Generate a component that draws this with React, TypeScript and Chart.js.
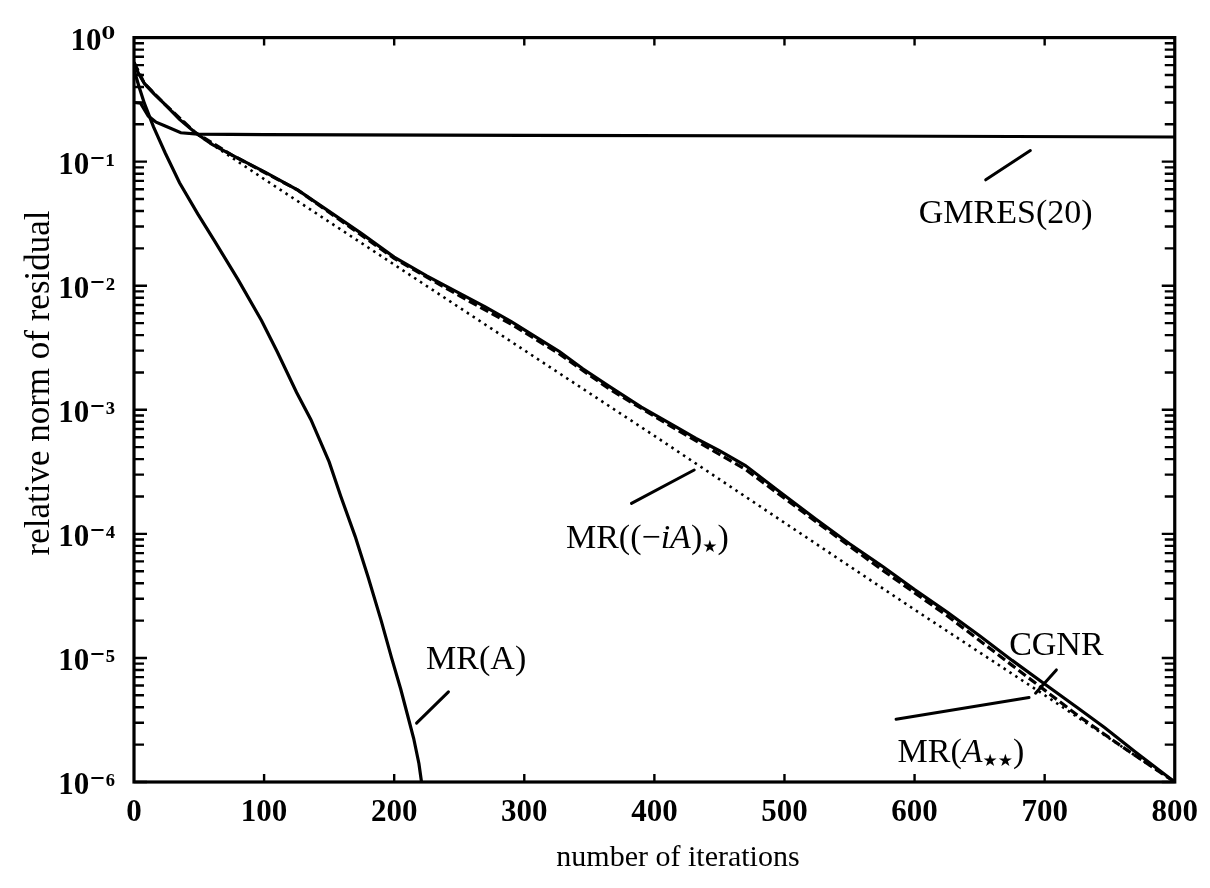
import React, { useEffect, useRef } from 'react';
import { Chart, registerables } from 'chart.js';

Chart.register(...registerables);

// ---------- data ----------
const X_TICKS = [0, 100, 200, 300, 400, 500, 600, 700, 800];
const Y_DECADES = [0, -1, -2, -3, -4, -5, -6];

const gmresIter = [0, 5, 11, 17, 24, 36, 49, 100, 300, 550, 800];
const gmresRes = [0.3, 0.296, 0.233, 0.208, 0.194, 0.171, 0.167, 0.165, 0.163, 0.161, 0.158];

const mrAIter = [0, 4, 8, 15, 24, 35, 49, 62, 80, 98, 110, 125, 136, 150, 159, 170, 180, 190, 198, 205, 210, 215, 219, 221];
const mrARes = [0.55, 0.398, 0.295, 0.191, 0.1175, 0.0676, 0.038, 0.0229, 0.0112, 0.00525, 0.00295, 0.00138, 8.32e-4, 3.8e-4, 2.0e-4, 9.55e-5, 4.47e-5, 2.0e-5, 1.0e-5, 5.62e-6, 3.55e-6, 2.24e-6, 1.41e-6, 1.0e-6];

const cgnrIter = [0, 3, 8, 15, 23, 35, 47, 60, 75, 100, 126, 150, 175, 200, 225, 250, 270, 290, 310, 327, 345, 365, 390, 417, 432, 450, 470, 495, 524, 550, 575, 600, 625, 650, 675, 700, 725, 746, 770, 800];
const cgnrRes = [0.631, 0.525, 0.427, 0.355, 0.295, 0.219, 0.172, 0.138, 0.1135, 0.0832, 0.0589, 0.0398, 0.0263, 0.017, 0.012, 0.00871, 0.00676, 0.00513, 0.0038, 0.00295, 0.00214, 0.00155, 0.00105, 7.24e-4, 5.89e-4, 4.68e-4, 3.55e-4, 2.24e-4, 1.32e-4, 8.32e-5, 5.5e-5, 3.55e-5, 2.34e-5, 1.51e-5, 9.55e-6, 6.17e-6, 3.98e-6, 2.75e-6, 1.74e-6, 1.0e-6];

const mrAssIter = [0, 8, 23, 47, 75, 126, 200, 250, 290, 327, 365, 417, 470, 524, 575, 625, 675, 700, 725, 760, 800];
const mrAssRes = [0.631, 0.427, 0.295, 0.172, 0.1135, 0.0589, 0.0166, 0.00832, 0.0049, 0.00282, 0.00148, 6.92e-4, 3.31e-4, 1.26e-4, 5.13e-5, 2.19e-5, 8.71e-6, 5.5e-6, 3.47e-6, 1.91e-6, 1.0e-6];

const mrIAIter = [0, 8, 23, 47, 100, 200, 300, 400, 500, 600, 700, 800];
const mrIARes = [0.631, 0.427, 0.295, 0.17, 0.0724, 0.0148, 0.00302, 6.17e-4, 1.23e-4, 2.45e-5, 5.01e-6, 1.0e-6];

// curve labels, anchored in data coordinates
const LABELS = [
  { parts: [{ t: 'GMRES(20)' }], at: [670, 0.0398], leader: [[654.7, 0.0714], [689, 0.123]] },
  { parts: [{ t: 'MR((\u2212' }, { t: 'iA', s: 'i' }, { t: ')' }, { t: '\u2605', s: 'sub' }, { t: ')' }], at: [394.6, 9.46e-5], leader: [[382.4, 1.76e-4], [430.6, 3.27e-4]] },
  { parts: [{ t: 'MR(A)' }], at: [263, 1.01e-5], leader: [[217.2, 2.98e-6], [241.7, 5.33e-6]] },
  { parts: [{ t: 'CGNR' }], at: [709, 1.3e-5], leader: [[709, 8.0e-6], [693, 5.2e-6]] },
  { parts: [{ t: 'MR(' }, { t: 'A', s: 'i' }, { t: '\u2605\u2605', s: 'sub' }, { t: ')' }], at: [635.6, 1.79e-6], leader: [[585.8, 3.2e-6], [688, 4.8e-6]] },
];

const X_TITLE = 'number of iterations';
const Y_TITLE = 'relative norm of residual';

const SERIF = '"Liberation Serif", "DejaVu Serif", serif';
const SUP: Record<string, string> = { '-': '\u207B', '0': '\u2070', '1': '\u00B9', '2': '\u00B2', '3': '\u00B3', '4': '\u2074', '5': '\u2075', '6': '\u2076', '7': '\u2077', '8': '\u2078', '9': '\u2079' };
const supText = (n: number) => String(n).split('').map((c) => SUP[c] || c).join('');

const pts = (xs: number[], ys: number[]) => xs.map((x, i) => ({ x, y: ys[i] }));

function drawRich(ctx: CanvasRenderingContext2D, parts: { t: string; s?: string }[], cx: number, cy: number, size: number) {
  const fontFor = (s?: string) => {
    if (s === 'i') return `italic ${size}px ${SERIF}`;
    if (s === 'sub') return `${Math.round(size * 0.5)}px "DejaVu Sans", sans-serif`;
    return `${size}px ${SERIF}`;
  };
  let total = 0;
  const widths = parts.map((p) => {
    ctx.font = fontFor(p.s);
    const w = ctx.measureText(p.t).width;
    total += w;
    return w;
  });
  let x = cx - total / 2;
  ctx.textBaseline = 'alphabetic';
  ctx.textAlign = 'left';
  const base = cy + size * 0.33;
  parts.forEach((p, i) => {
    ctx.font = fontFor(p.s);
    ctx.fillText(p.t, x, p.s === 'sub' ? base + size * 0.12 : base);
    x += widths[i];
  });
}

const framePlugin = {
  id: 'frameAndTicks',
  afterDatasetsDraw(chart: any) {
    const { ctx, chartArea } = chart;
    const { left, right, top, bottom } = chartArea;
    const xs = chart.scales.x;
    const ys = chart.scales.y;
    ctx.save();
    ctx.strokeStyle = '#000';
    ctx.fillStyle = '#000';
    // leaders and labels
    ctx.lineWidth = 3;
    ctx.lineCap = 'round';
    LABELS.forEach((l) => {
      const [a, b] = l.leader;
      ctx.beginPath();
      ctx.moveTo(xs.getPixelForValue(a[0]), ys.getPixelForValue(a[1]));
      ctx.lineTo(xs.getPixelForValue(b[0]), ys.getPixelForValue(b[1]));
      ctx.stroke();
      drawRich(ctx, l.parts, xs.getPixelForValue(l.at[0]), ys.getPixelForValue(l.at[1]), 34);
    });
    // frame
    ctx.lineCap = 'butt';
    ctx.lineWidth = 3.2;
    ctx.strokeRect(left, top, right - left, bottom - top);
    // x ticks, inward on bottom and top
    ctx.lineWidth = 2.4;
    X_TICKS.forEach((v) => {
      if (v === 0 || v === 800) return;
      const px = xs.getPixelForValue(v);
      ctx.beginPath();
      ctx.moveTo(px, bottom);
      ctx.lineTo(px, bottom - 8);
      ctx.moveTo(px, top);
      ctx.lineTo(px, top + 8);
      ctx.stroke();
    });
    // y ticks (decades and minors), inward on left and right
    Y_DECADES.forEach((d) => {
      for (let k = 1; k <= 9; k++) {
        if (d === 0 && k > 1) continue;
        const py = ys.getPixelForValue(k * Math.pow(10, d));
        const len = k === 1 ? 13 : 10;
        ctx.beginPath();
        ctx.moveTo(left, py);
        ctx.lineTo(left + len, py);
        ctx.moveTo(right, py);
        ctx.lineTo(right - len, py);
        ctx.stroke();
      }
    });
    // axis titles
    ctx.textAlign = 'center';
    ctx.textBaseline = 'middle';
    ctx.font = `30px ${SERIF}`;
    ctx.fillText(X_TITLE, 678, 858);
    ctx.save();
    ctx.font = `35px ${SERIF}`;
    ctx.translate(40, 383);
    ctx.rotate(-Math.PI / 2);
    ctx.fillText(Y_TITLE, 0, 0);
    ctx.restore();
    ctx.restore();
  },
};

export default function App() {
  const ref = useRef<HTMLCanvasElement>(null);
  useEffect(() => {
    const canvas = ref.current;
    if (!canvas) return;
    const line = (data: any[], dash: number[], width: number) => ({
      data,
      borderColor: '#000',
      backgroundColor: '#000',
      borderWidth: width,
      borderDash: dash,
      pointRadius: 0,
      tension: 0,
      fill: false,
      borderCapStyle: 'butt' as const,
    });
    const chart = new Chart(canvas, {
      type: 'line',
      data: {
        datasets: [
          { label: 'MR((-iA)*)', ...line(pts(mrIAIter, mrIARes), [2.5, 4.5], 2.6) },
          { label: 'MR(A**)', ...line(pts(mrAssIter, mrAssRes), [9, 4], 3.2) },
          { label: 'CGNR', ...line(pts(cgnrIter, cgnrRes), [], 3.2) },
          { label: 'GMRES(20)', ...line(pts(gmresIter, gmresRes), [], 3.2) },
          { label: 'MR(A)', ...line(pts(mrAIter, mrARes), [], 3.2) },
        ],
      },
      options: {
        responsive: false,
        animation: false,
        parsing: true,
        layout: { padding: { left: 0, right: 30, top: 23, bottom: 0 } },
        plugins: { legend: { display: false }, tooltip: { enabled: false }, title: { display: false } },
        scales: {
          x: {
            type: 'linear',
            min: 0,
            max: 800,
            afterBuildTicks: (s: any) => {
              s.ticks = X_TICKS.map((v) => ({ value: v }));
            },
            afterFit: (s: any) => {
              s.height = 106;
            },
            grid: { display: false, drawTicks: false },
            border: { display: false },
            ticks: {
              padding: 12,
              autoSkip: false,
              maxRotation: 0,
              color: '#000',
              font: { family: SERIF, size: 31, weight: 'bold' },
              callback: (v: any) => String(v),
            },
          },
          y: {
            type: 'logarithmic',
            min: 1e-6,
            max: 1,
            afterBuildTicks: (s: any) => {
              s.ticks = Y_DECADES.map((d) => ({ value: Math.pow(10, d) }));
            },
            afterFit: (s: any) => {
              s.width = 134;
            },
            grid: { display: false, drawTicks: false },
            border: { display: false },
            ticks: {
              padding: 19,
              labelOffset: 4,
              autoSkip: false,
              color: '#000',
              font: { family: SERIF, size: 31, weight: 'bold' },
              callback: (v: any) => '10' + supText(Math.round(Math.log10(Number(v)))),
            },
          },
        },
      },
      plugins: [framePlugin],
    });
    return () => chart.destroy();
  }, []);
  return (
    <div style={{ position: 'fixed', left: 0, top: 0, width: 1210, height: 888, background: '#fff' }}>
      <canvas ref={ref} width={1210} height={888} style={{ display: 'block' }} />
    </div>
  );
}
